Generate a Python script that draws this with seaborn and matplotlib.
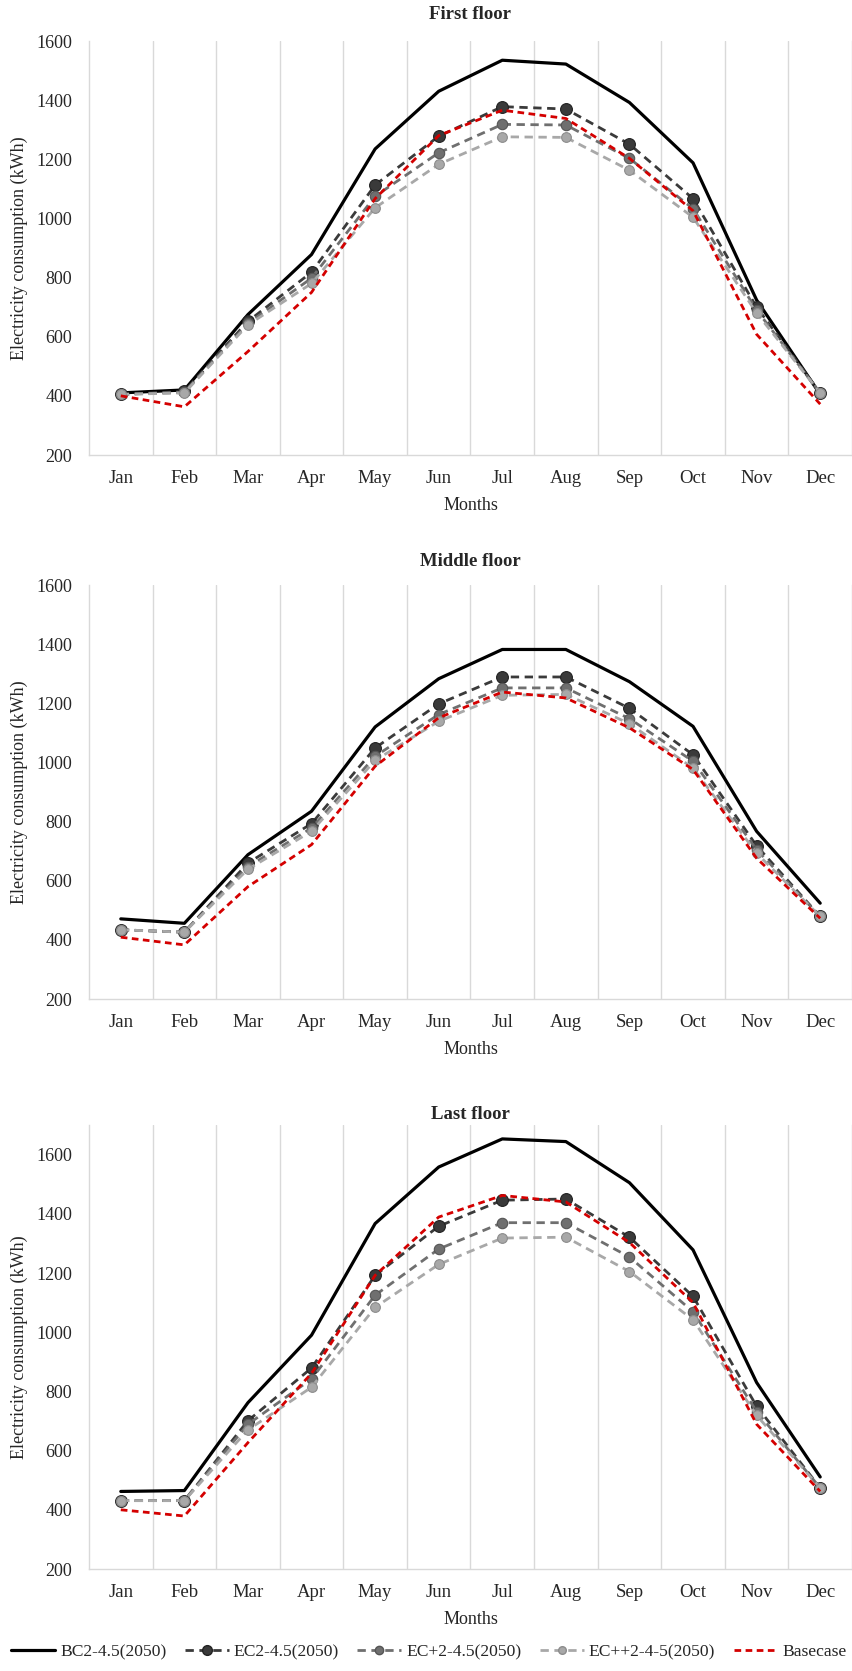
import numpy as np
import pandas as pd
import matplotlib
matplotlib.use("Agg")
import matplotlib.pyplot as plt
from matplotlib.lines import Line2D
import seaborn as sns

# ---- data -------------------------------------------------------------
months = ["Jan", "Feb", "Mar", "Apr", "May", "Jun",
          "Jul", "Aug", "Sep", "Oct", "Nov", "Dec"]

series_names = ["BC2-4.5(2050)", "EC2-4.5(2050)", "EC+2-4.5(2050)",
                "EC++2-4-5(2050)", "Basecase"]

# First floor
bc2_first = [410, 420, 675, 878, 1235, 1430, 1535, 1522, 1392, 1188, 724, 405]
ec2_first = [405, 415, 652, 818, 1113, 1278, 1378, 1370, 1251, 1067, 700, 410]
ecp_first = [405, 412, 645, 798, 1075, 1222, 1318, 1316, 1203, 1033, 690, 410]
ecpp_first = [405, 410, 640, 780, 1036, 1183, 1276, 1274, 1163, 1004, 680, 410]
base_first = [400, 363, 550, 750, 1067, 1280, 1366, 1338, 1203, 1026, 608, 372]

# Middle floor
bc2_mid = [471, 456, 688, 835, 1120, 1283, 1382, 1382, 1273, 1122, 767, 524]
ec2_mid = [434, 426, 660, 793, 1049, 1198, 1289, 1289, 1183, 1026, 718, 479]
ecp_mid = [434, 426, 648, 778, 1021, 1162, 1252, 1252, 1148, 1004, 705, 479]
ecpp_mid = [434, 426, 639, 767, 1007, 1139, 1227, 1230, 1131, 981, 693, 479]
base_mid = [409, 383, 580, 722, 987, 1151, 1238, 1218, 1117, 976, 676, 473]

# Last floor
bc2_last = [462, 465, 762, 990, 1367, 1558, 1653, 1644, 1505, 1278, 830, 511]
ec2_last = [431, 431, 701, 879, 1192, 1358, 1446, 1450, 1321, 1121, 750, 474]
ecp_last = [431, 431, 689, 842, 1125, 1281, 1370, 1370, 1254, 1069, 732, 474]
ecpp_last = [431, 431, 670, 814, 1084, 1229, 1318, 1321, 1205, 1042, 719, 474]
base_last = [400, 379, 627, 861, 1192, 1389, 1462, 1440, 1303, 1100, 689, 462]

panel_titles = ["First floor", "Middle floor", "Last floor"]
panel_data = [
    [bc2_first, ec2_first, ecp_first, ecpp_first, base_first],
    [bc2_mid, ec2_mid, ecp_mid, ecpp_mid, base_mid],
    [bc2_last, ec2_last, ecp_last, ecpp_last, base_last],
]
panel_ylim = [(200, 1600), (200, 1600), (200, 1700)]
yticks = [200, 400, 600, 800, 1000, 1200, 1400, 1600]

# ---- styling ----------------------------------------------------------
sns.set_theme(style="white")
plt.rcParams["font.family"] = ["Liberation Serif", "DejaVu Serif"]
plt.rcParams["font.size"] = 13

styles = [
    dict(color="#000000", lw=2.3, ls="-", marker=None, ms=0, mec="#000000"),
    dict(color="#3a3a3a", lw=2.0, ls=(0, (3, 2)), marker="o", ms=8.5, mec="#222222"),
    dict(color="#6f6f6f", lw=2.0, ls=(0, (3, 2)), marker="o", ms=7.5, mec="#555555"),
    dict(color="#a8a8a8", lw=2.0, ls=(0, (3, 2)), marker="o", ms=7.0, mec="#8c8c8c"),
    dict(color="#d40000", lw=2.0, ls=(0, (2.4, 1.6)), marker=None, ms=0, mec="#d40000"),
]

grid_col = "#d9d9d9"

W, H = 853, 1671
fig = plt.figure(figsize=(W / 100, H / 100), dpi=100)

# axes boxes in pixels: (top, bottom)
boxes = [(41, 455), (585, 999), (1125, 1569)]
title_pads = [16, 14, 4]
left_px, right_px = 89, 852

x = np.arange(len(months))

for (top, bottom), title, data, ylim, tpad in zip(
        boxes, panel_titles, panel_data, panel_ylim, title_pads):
    ax = fig.add_axes([left_px / W, 1 - bottom / H,
                       (right_px - left_px) / W, (bottom - top) / H])
    for vals, name, st in zip(data, series_names, styles):
        df = pd.DataFrame({"month": x, "value": vals})
        sns.lineplot(data=df, x="month", y="value", ax=ax, sort=False,
                     color=st["color"], linewidth=st["lw"], linestyle=st["ls"],
                     marker=st["marker"], markersize=st["ms"],
                     markeredgecolor=st["mec"], markeredgewidth=0.8,
                     label=name, legend=False)
    ax.set_xlim(-0.5, len(months) - 0.5)
    ax.set_ylim(*ylim)
    ax.set_yticks(yticks)
    ax.set_xticks(x)
    ax.set_xticklabels(months)
    ax.set_xticks(np.arange(0.5, len(months) - 1, 1), minor=True)
    ax.grid(False)
    ax.grid(True, which="minor", axis="x", color=grid_col, lw=1.0)
    ax.tick_params(axis="both", which="both", length=0)
    ax.tick_params(axis="x", which="major", pad=11, labelsize=13.5)
    ax.tick_params(axis="y", pad=12, labelsize=13)
    for side in ["left", "right", "bottom"]:
        ax.spines[side].set_color(grid_col)
        ax.spines[side].set_linewidth(1.0)
    ax.spines["top"].set_visible(False)
    ax.set_xlabel("Months", fontsize=13, labelpad=7)
    ax.set_ylabel("Electricity consumption (kWh)", fontsize=13, labelpad=6)
    ax.set_title(title, fontsize=13.5, fontweight="bold", pad=tpad)

handles = [Line2D([0], [0], color=st["color"], lw=st["lw"], ls=st["ls"],
                  marker=st["marker"], markersize=st["ms"] - 1.5,
                  markeredgecolor=st["mec"])
           for st in styles]
fig.legend(handles, series_names, loc="center",
           bbox_to_anchor=(0.503, 1 - 1652 / H), ncol=5, frameon=False,
           fontsize=12.6, handlelength=2.5, handletextpad=0.3,
           columnspacing=1.05, borderaxespad=0.0, borderpad=0.0)

fig.savefig("out.png", dpi=100)
